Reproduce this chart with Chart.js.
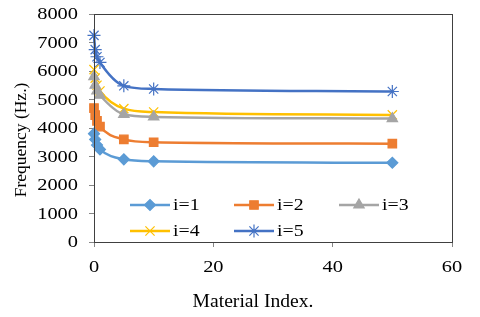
<!DOCTYPE html>
<html>
<head>
<meta charset="utf-8">
<script src="https://cdn.jsdelivr.net/npm/chart.js@4/dist/chart.umd.min.js"></script>
<style>
  html, body { margin: 0; padding: 0; background: #fff; }
  #wrap { width: 480px; height: 317px; }
</style>
</head>
<body>
<div id="wrap"><canvas id="grafico"></canvas></div>
<script>
// data
const materialIndex = [0, 0.2, 0.5, 1, 5, 10, 50];
const freq1 = [3800, 3600, 3400, 3250, 2900, 2830, 2780];
const freq2 = [4700, 4450, 4250, 4050, 3600, 3500, 3450];
const freq3 = [5800, 5500, 5300, 5150, 4480, 4390, 4330];
const freq4 = [6050, 5750, 5500, 5300, 4680, 4560, 4460];
const freq5 = [7250, 6750, 6500, 6300, 5480, 5370, 5280];
const seriesNames = ['i=1', 'i=2', 'i=3', 'i=4', 'i=5'];
const xTicks = [0, 20, 40, 60];

const serif = "'Liberation Serif', 'Times New Roman', serif";

const styles = [
  { color: '#5B9BD5', point: 'rectRot', r: 5.5 },
  { color: '#ED7D31', point: 'rect', r: 6 },
  { color: '#A5A5A5', point: 'triangle', r: 6 },
  { color: '#FFC000', point: 'crossRot', r: 6.5 },
  { color: '#4472C4', point: 'star', r: 6.5 }
];

const allFreq = [freq1, freq2, freq3, freq4, freq5];
const datasets = allFreq.map((vals, i) => ({
  label: seriesNames[i],
  data: vals.map((v, k) => ({ x: materialIndex[k], y: v })),
  borderColor: styles[i].color,
  backgroundColor: styles[i].color,
  pointBorderColor: styles[i].color,
  pointBackgroundColor: styles[i].color,
  pointStyle: styles[i].point,
  pointRadius: styles[i].r,
  pointBorderWidth: 1.2,
  borderWidth: 2.5,
  cubicInterpolationMode: 'monotone',
  clip: false,
  fill: false
}));

// the reference image is stretched sideways, so text gets a horizontal scale
function wideText(ctx, text, x, y, size, sx, align, baseline) {
  ctx.save();
  ctx.font = size + 'px ' + serif;
  ctx.textAlign = align;
  ctx.textBaseline = baseline || 'middle';
  ctx.translate(x, y);
  ctx.scale(sx, 1);
  ctx.fillText(text, 0, 0);
  ctx.restore();
}

// plot frame, tick labels, axis titles and excel-like legend
const extras = {
  id: 'extras',
  afterDraw(chart) {
    const { ctx, chartArea: a } = chart;
    const xs = chart.scales.x, ys = chart.scales.y;
    ctx.save();
    ctx.strokeStyle = '#404040';
    ctx.lineWidth = 1;
    ctx.strokeRect(a.left + 0.5, a.top + 0.5, a.right - a.left, a.bottom - a.top);

    ctx.fillStyle = '#000';
    ys.ticks.forEach(t => {
      wideText(ctx, String(t.value), 78, ys.getPixelForValue(t.value) + 1, 17, 1.2, 'right');
    });
    xs.ticks.forEach(t => {
      wideText(ctx, String(t.value), xs.getPixelForValue(t.value), 268, 17, 1.2, 'center');
    });

    wideText(ctx, 'Material Index.', 253, 307, 18, 1.09, 'center', 'alphabetic');
    ctx.save();
    ctx.translate(21, 140);
    ctx.rotate(-Math.PI / 2);
    ctx.font = '17.5px ' + serif;
    ctx.textAlign = 'center';
    ctx.textBaseline = 'middle';
    ctx.fillText('Frequency (Hz.)', 0, 0);
    ctx.restore();

    // legend, two rows inside the plot
    const cols = [130, 234, 339];
    const rows = [205, 231];
    chart.data.datasets.forEach((ds, i) => {
      const x = cols[i % 3];
      const y = rows[Math.floor(i / 3)];
      ctx.strokeStyle = ds.borderColor;
      ctx.fillStyle = ds.backgroundColor;
      ctx.lineWidth = 2.5;
      ctx.beginPath();
      ctx.moveTo(x, y);
      ctx.lineTo(x + 40, y);
      ctx.stroke();
      ctx.lineWidth = ds.pointBorderWidth;
      Chart.helpers.drawPoint(ctx, {
        pointStyle: ds.pointStyle,
        radius: ds.pointRadius,
        borderWidth: ds.pointBorderWidth,
        rotation: 0
      }, x + 20, y);
      ctx.fillStyle = '#000';
      wideText(ctx, ds.label, x + 43, y + 1, 16.5, 1.2, 'left');
    });
    ctx.restore();
  }
};

// scale labels are painted by the plugin, the built-in ones stay invisible
const hiddenTicks = { color: 'rgba(0,0,0,0)', font: { size: 1 }, padding: 0 };

new Chart(document.getElementById('grafico'), {
  type: 'line',
  data: { datasets },
  options: {
    responsive: true,
    maintainAspectRatio: false,
    animation: false,
    layout: { padding: { left: 0, top: 14, right: 28, bottom: 0 } },
    plugins: { legend: { display: false }, tooltip: { enabled: false } },
    scales: {
      x: {
        type: 'linear',
        min: 0,
        max: 60,
        afterBuildTicks: s => { s.ticks = xTicks.map(v => ({ value: v })); },
        afterFit: s => { s.height = 75; },
        grid: { drawOnChartArea: false, drawTicks: true, tickLength: 5, color: '#868686' },
        border: { color: '#868686', width: 1 },
        ticks: { ...hiddenTicks, maxRotation: 0 }
      },
      y: {
        min: 0,
        max: 8000,
        afterFit: s => { s.width = 94; },
        grid: { drawOnChartArea: false, drawTicks: true, tickLength: 5, color: '#868686' },
        border: { color: '#868686', width: 1 },
        ticks: { ...hiddenTicks, stepSize: 1000 }
      }
    }
  },
  plugins: [extras]
});
</script>
</body>
</html>
